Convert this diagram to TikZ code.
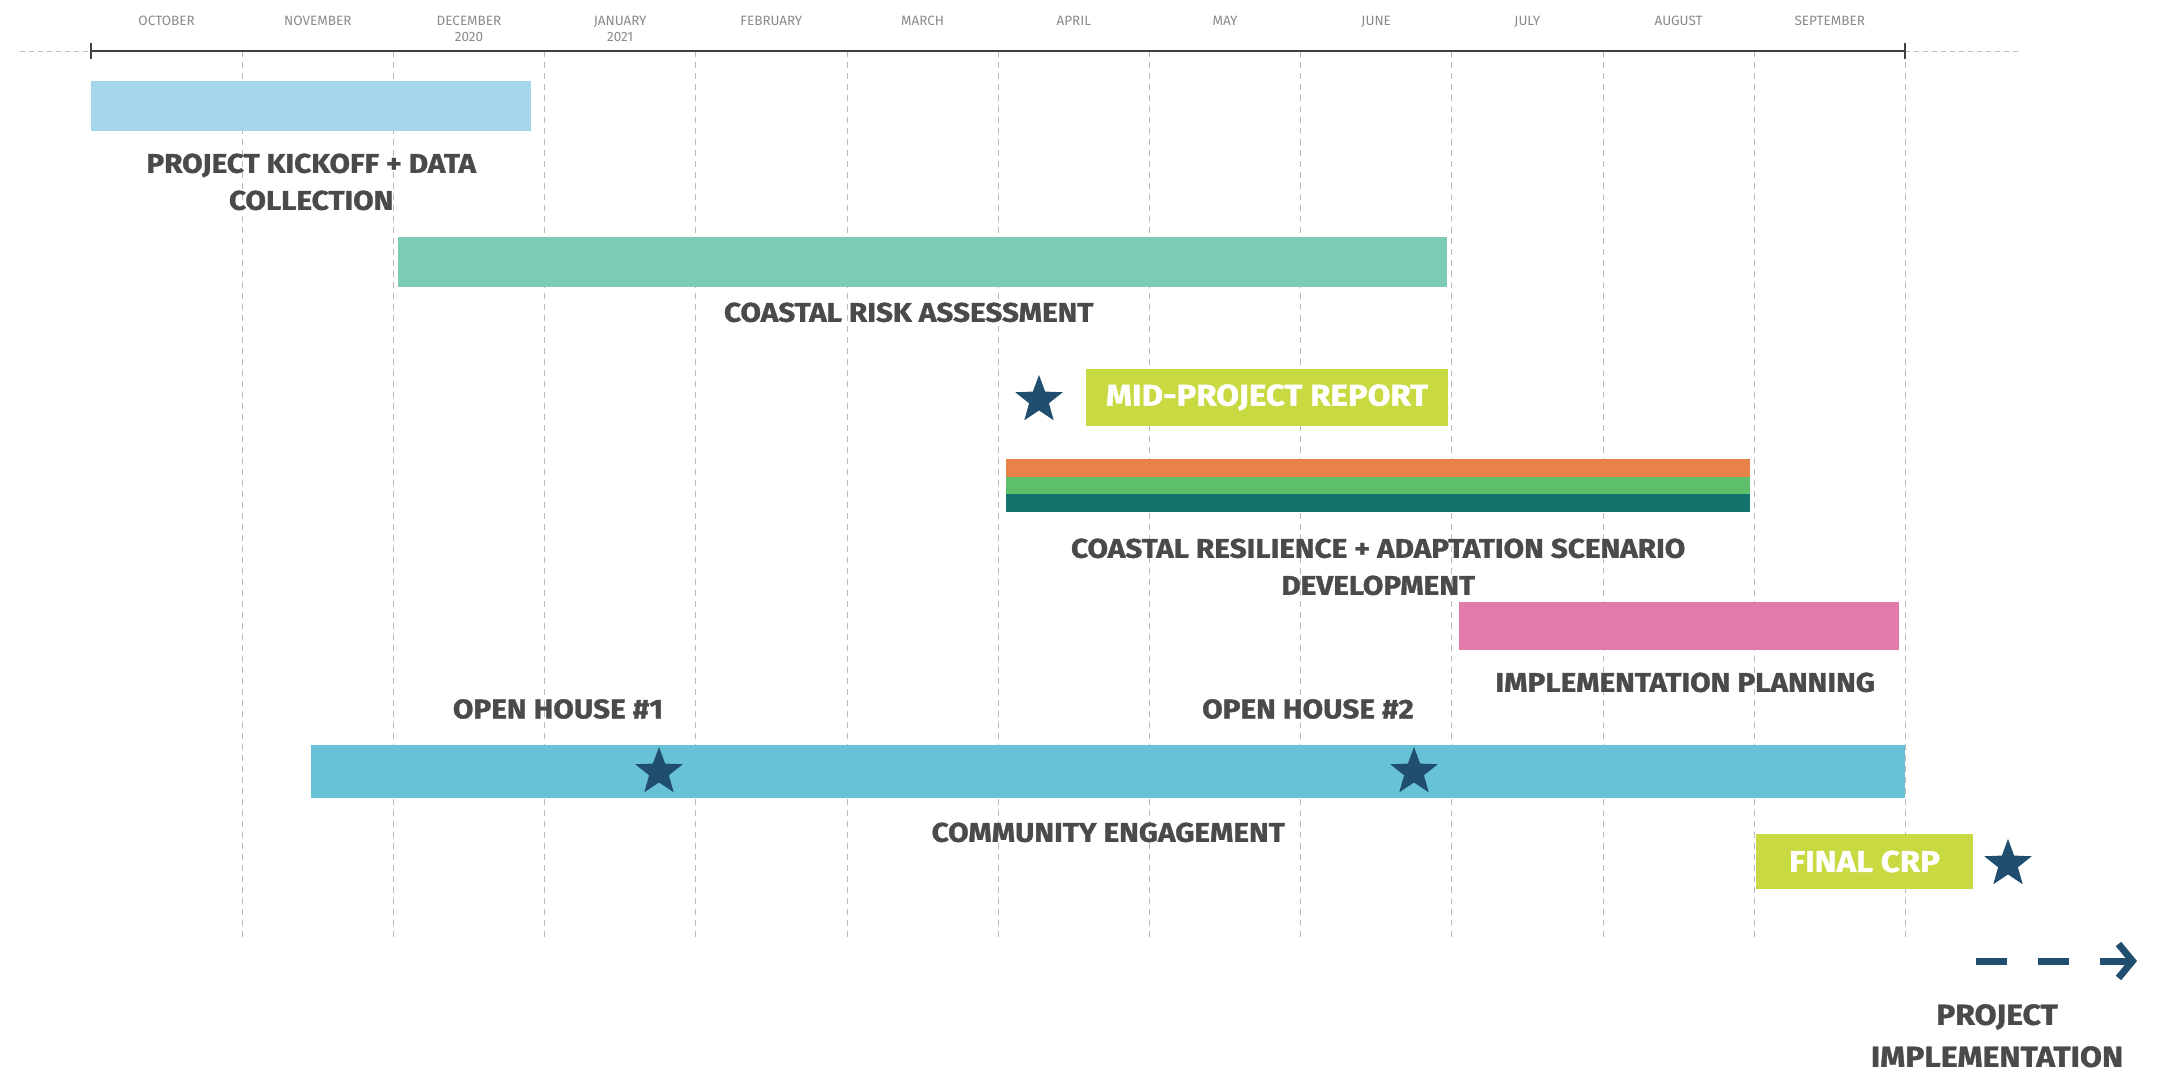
\documentclass[tikz,border=0pt]{standalone}
\usepackage{fontspec}
\setmainfont{Fira Sans}
\newfontfamily\heavyfont{Fira Sans}[FakeStretch=1.1, FakeBold=1.2]
\usetikzlibrary{positioning,shapes.geometric,arrows.meta}

\definecolor{kickblue}{HTML}{A5D5EB}
\definecolor{riskteal}{HTML}{7DCBB6}
\definecolor{reportlime}{HTML}{C8D941}
\definecolor{scenorange}{HTML}{E9824A}
\definecolor{scengreen}{HTML}{5DBE6C}
\definecolor{scenteal}{HTML}{12746A}
\definecolor{planpink}{HTML}{E27AAA}
\definecolor{engcyan}{HTML}{68C2D7}
\definecolor{starnavy}{HTML}{1F4E6F}
\definecolor{labelgray}{HTML}{4A4A4C}
\definecolor{monthgray}{HTML}{8A8A8A}

\tikzset{
	bar/.style={rectangle, inner sep=0pt, anchor=north west},
	phase/.style={font=\heavyfont\bfseries\fontsize{27}{37}\selectfont, text=labelgray, align=center, inner sep=0pt},
	boxlbl/.style={font=\heavyfont\bfseries\fontsize{30}{37}\selectfont, text=white, inner sep=0pt},
	milestone/.style={star, star points=5, star point ratio=2.4, fill=starnavy, inner sep=0pt, minimum size=50pt},
	month/.style={font=\fontsize{13.5}{16}\selectfont, text=monthgray, align=center, inner sep=0pt, anchor=north},
	gridline/.style={gray!55, dash pattern=on 6pt off 5pt, line width=1pt},
}

\begin{document}
\begin{tikzpicture}[x=1pt,y=-1pt]
	\useasboundingbox (0,0) rectangle (2161,1074);
	\def\ox{91}		%left end of the time axis (october 1st)
	\def\mw{151.2}	%width of one month
	\def\ay{51}		%height of the time axis

	%month grid
	\foreach \i in {1,...,12}{
		\draw[gridline] ({\ox+\i*\mw},\ay) -- ({\ox+\i*\mw},940);
		}
	\foreach \m [count=\i from 0] in {OCTOBER,NOVEMBER,DECEMBER\\2020,JANUARY\\2021,FEBRUARY,MARCH,APRIL,MAY,JUNE,JULY,AUGUST,SEPTEMBER}{
		\node[month] (m\i) at ({\ox+(\i+.5)*\mw},16) {\m};
		}

	%time axis
	\draw[gray!50, dash pattern=on 5pt off 4pt, line width=1pt] (20,\ay) -- (\ox,\ay);
	\draw[gray!50, dash pattern=on 5pt off 4pt, line width=1pt] ({\ox+12*\mw},\ay) -- (2020,\ay);
	\draw[black!75, line width=2.5pt] (\ox,\ay) -- ({\ox+12*\mw},\ay);
	\draw[black!75, line width=2pt] (\ox,\ay-8) -- (\ox,\ay+8);
	\draw[black!75, line width=2pt] ({\ox+12*\mw},\ay-8) -- ({\ox+12*\mw},\ay+8);

	%phases
	\node[bar, fill=kickblue, minimum width=440pt, minimum height=50pt] (kickoff) at (91,81) {};
	\node[phase, below=22pt of kickoff] (kickofflbl) {PROJECT KICKOFF + DATA\\COLLECTION};

	\node[bar, fill=riskteal, minimum width=1049pt, minimum height=50pt] (risk) at (398,237) {};
	\node[phase, below=15pt of risk, xshift=-14pt] (risklbl) {COASTAL RISK ASSESSMENT};

	\node[milestone] (midstar) at (1039,400) {};
	\node[fill=reportlime, minimum width=362pt, minimum height=57pt, boxlbl] (midreport) at (1267,397.5) {MID-PROJECT REPORT};

	\node[bar, fill=scenorange, minimum width=744pt, minimum height=18pt] (scen1) at (1006,459) {};
	\node[bar, fill=scengreen, minimum width=744pt, minimum height=17pt] (scen2) at (1006,477) {};
	\node[bar, fill=scenteal, minimum width=744pt, minimum height=18pt] (scen3) at (1006,494) {};
	\node[phase, below=26pt of scen3] (scenlbl) {COASTAL RESILIENCE + ADAPTATION SCENARIO\\DEVELOPMENT};

	\node[bar, fill=planpink, minimum width=440pt, minimum height=48pt] (plan) at (1459,602) {};
	\node[phase, below=22pt of plan, xshift=6pt] (planlbl) {IMPLEMENTATION PLANNING};

	\node[bar, fill=engcyan, minimum width=1594pt, minimum height=53pt] (engage) at (311,745) {};
	\node[phase, below=24pt of engage] (engagelbl) {COMMUNITY ENGAGEMENT};
	\node[milestone] (oh1) at (659,772) {};
	\node[milestone] (oh2) at (1414,772) {};
	\node[phase, anchor=south] (oh1lbl) at (558,719) {OPEN HOUSE \#1};
	\node[phase, anchor=south] (oh2lbl) at (1308,719) {OPEN HOUSE \#2};

	\node[fill=reportlime, minimum width=217pt, minimum height=55pt, boxlbl] (finalcrp) at (1864.5,861.5) {FINAL CRP};
	\node[milestone] (finalstar) at (2008,864) {};

	%on to implementation
	\coordinate (arrstart) at (1976,961);
	\coordinate (arrtip) at (2137,961);
	\draw[starnavy, line width=7pt, dash pattern=on 31pt off 31pt, -{Straight Barb[length=14pt,width=34pt]}] (arrstart) -- (arrtip);
	\node[font=\heavyfont\bfseries\fontsize{29}{42}\selectfont, text=labelgray, align=center, inner sep=0pt, anchor=north] (impl) at (1997,1004) {PROJECT\\IMPLEMENTATION};
\end{tikzpicture}
\end{document}
